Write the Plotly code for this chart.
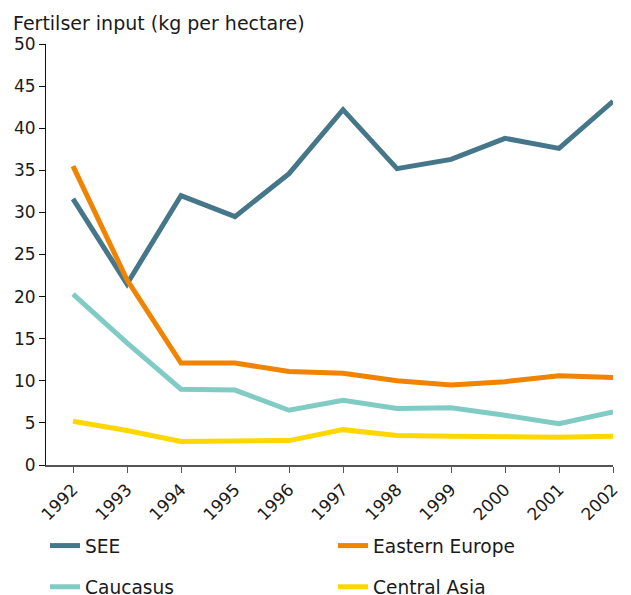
import plotly.graph_objects as go

years = list(range(1992, 2003))
see = [31.6, 21.5, 32.0, 29.5, 34.6, 42.2, 35.2, 36.3, 38.8, 37.6, 43.2]
eastern_europe = [35.5, 22.0, 12.1, 12.1, 11.1, 10.9, 10.0, 9.5, 9.9, 10.6, 10.4]
caucasus = [20.3, 14.5, 9.0, 8.9, 6.5, 7.7, 6.7, 6.8, 5.9, 4.9, 6.3]
central_asia = [5.2, 4.1, 2.8, 2.8, 2.9, 4.2, 3.5, 3.4, 3.3, 3.3, 3.4]

# (name, values, colour, legend column)
series = [
    ("SEE", see, "#457689", "legend"),
    ("Eastern Europe", eastern_europe, "#f08300", "legend2"),
    ("Caucasus", caucasus, "#80cbc4", "legend"),
    ("Central Asia", central_asia, "#ffd700", "legend2"),
]

# page body keeps its default 8px margin, so the figure is a bit smaller
W, H = 623, 587
ML, MR, MT, MB = 38, 18, 36, 130
font_family = "Verdana, DejaVu Sans, sans-serif"
text_color = "#1a1a1a"

fig = go.Figure()
for name, values, color, legend in series:
    fig.add_trace(
        go.Scatter(
            x=years,
            y=values,
            name=name,
            mode="lines",
            line=dict(color=color, width=5),
            legend=legend,
            legendgroup=name,
        )
    )

legend_common = dict(
    orientation="v",
    xref="container",
    yref="container",
    yanchor="top",
    xanchor="left",
    y=(H - 519) / H,
    tracegroupgap=14,
    font=dict(size=18.6, family=font_family, color=text_color),
    bgcolor="rgba(0,0,0,0)",
)

plot_w = W - ML - MR
plot_h = H - MT - MB

fig.update_layout(
    width=W,
    height=H,
    margin=dict(l=ML, r=MR, t=MT, b=MB, autoexpand=False),
    paper_bgcolor="white",
    plot_bgcolor="white",
    font=dict(family=font_family, size=17, color=text_color),
    showlegend=True,
    legend=dict(legend_common, x=37 / W),
    legend2=dict(legend_common, x=325 / W),
    annotations=[
        dict(
            text="Fertilser input (kg per hectare)",
            x=(3 - ML) / plot_w,
            xref="paper",
            y=(H - MB - 2) / plot_h,
            yref="paper",
            xanchor="left",
            yanchor="top",
            showarrow=False,
            font=dict(size=19, family=font_family, color=text_color),
        )
    ],
)

fig.update_xaxes(
    range=[1991.5, 2002],
    tickmode="array",
    tickvals=years,
    ticktext=[str(y) for y in years],
    tickangle=-45,
    ticks="outside",
    ticklen=6,
    tickcolor="#555555",
    showline=True,
    linecolor="#555555",
    linewidth=2,
    showgrid=False,
    zeroline=False,
    automargin=False,
    tickfont=dict(size=17),
)
fig.update_yaxes(
    range=[0, 50],
    dtick=5,
    ticks="outside",
    ticklen=6,
    tickcolor="#111111",
    showline=True,
    linecolor="#111111",
    linewidth=1,
    showgrid=False,
    zeroline=False,
    automargin=False,
    tickfont=dict(size=17),
)

fig.write_html("out.html")
